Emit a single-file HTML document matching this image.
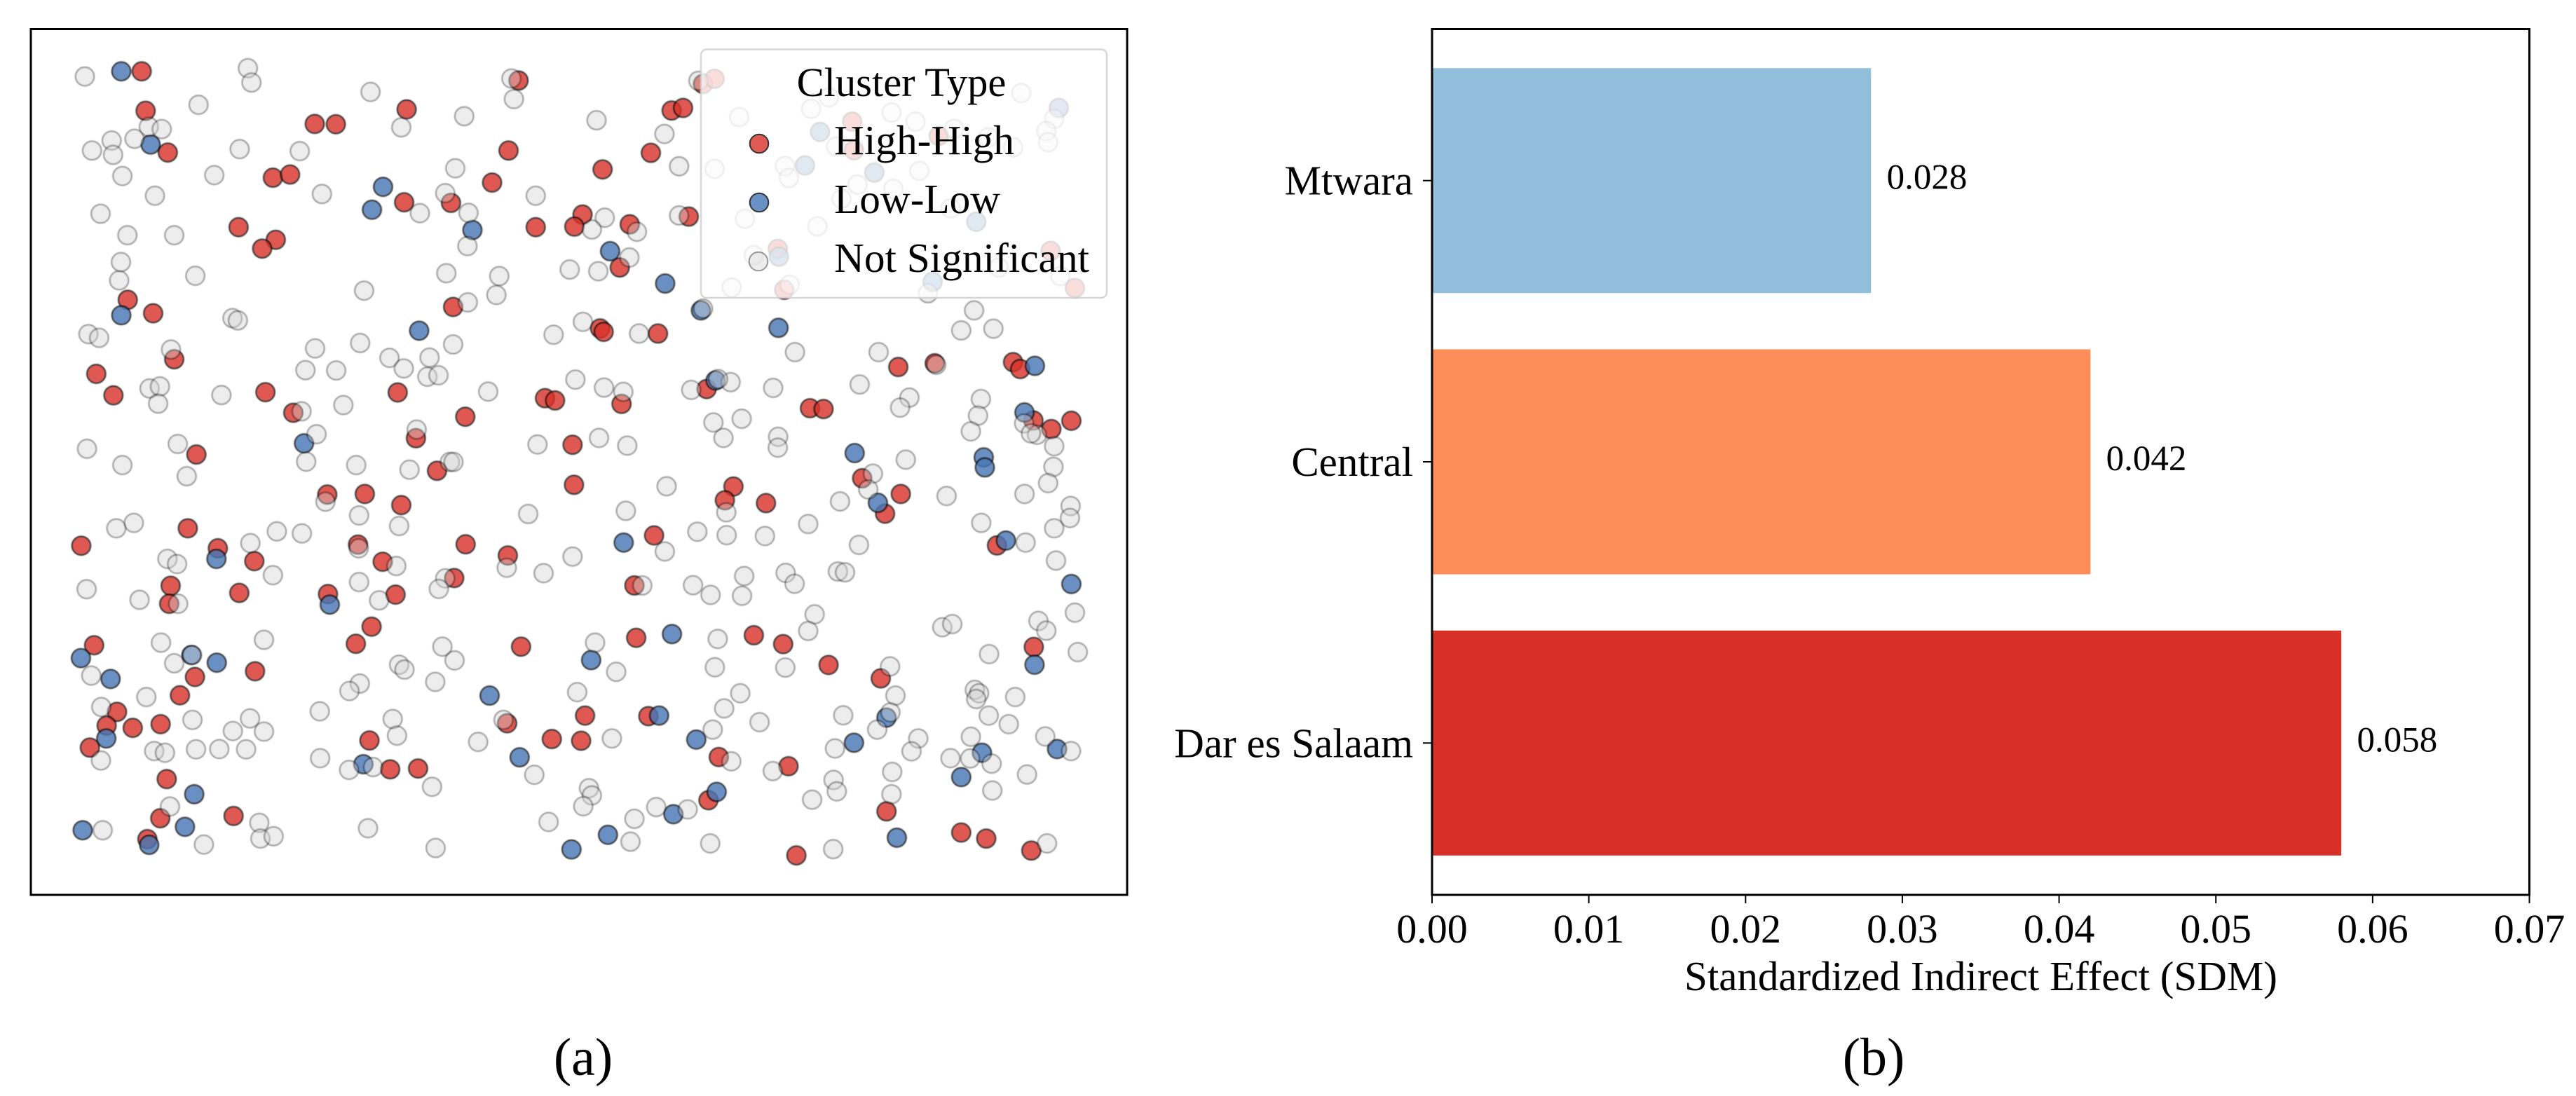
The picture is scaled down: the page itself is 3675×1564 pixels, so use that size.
<!DOCTYPE html>
<html lang="en">
<head>
<meta charset="utf-8">
<title>Cluster map and standardized indirect effects</title>
<style>
html,body{margin:0;padding:0;background:#fff;width:3675px;height:1564px;overflow:hidden}
svg{display:block}
text{font-family:"Liberation Serif",serif;fill:#000}
#scatter-points{filter:blur(0.8px)}
</style>
</head>
<body>
<svg id="fig" xmlns="http://www.w3.org/2000/svg" width="3675" height="1564" viewBox="0 0 3675 1564">
  <rect x="0" y="0" width="3675" height="1564" fill="#fff"/>
  <g id="scatter-points"></g>
  <rect x="44" y="41.5" width="1564" height="1235.5" fill="none" stroke="#000" stroke-width="3"/>
  <g>
    <rect x="1000" y="70.5" width="579" height="354.5" rx="8" ry="8" fill="#fff" fill-opacity="0.8" stroke="#ccc" stroke-opacity="0.8" stroke-width="2.5"/>
    <text x="1286" y="137" font-size="58.5" text-anchor="middle">Cluster Type</text>
    <circle cx="1083" cy="205" r="13.3" fill="#d73027" stroke="#000" stroke-width="2" opacity="0.8"/>
    <text x="1190" y="220" font-size="59.3">High-High</text>
    <circle cx="1083" cy="289" r="13.3" fill="#4575b4" stroke="#000" stroke-width="2" opacity="0.8"/>
    <text x="1190" y="304" font-size="59.3">Low-Low</text>
    <circle cx="1082" cy="373" r="13.3" fill="#d3d3d3" stroke="#000" stroke-width="2" opacity="0.4"/>
    <text x="1190" y="388" font-size="59.3">Not Significant</text>
  </g>
  <g id="bar-panel"></g>
  <rect x="2043" y="41.5" width="1565.5" height="1235.5" fill="none" stroke="#000" stroke-width="3"/>
  <text x="2826" y="1413" font-size="59" text-anchor="middle">Standardized Indirect Effect (SDM)</text>
  <text x="832" y="1534" font-size="76" text-anchor="middle">(a)</text>
  <text x="2673" y="1534" font-size="76" text-anchor="middle">(b)</text>
</svg>
<script>
// Panel (a): spatial cluster locations (arbitrary map units)
const mapEastDomain = [0, 3066];
const mapNorthDomain = [0, 3029];

const highHighEast = [310,1364,321,1051,794,853,383,1336,677,725,1290,1044,1175,581,1412,685,647,271,342,1181,401,183,231,656,1026,1438,1466,734,1215,1077,
1792,1824,1734,1599,1543,1520,1675,1840,1647,1592,1602,1754,2426,2528,2747,2767,1890,2179,2217,2804,2854,2910,1652,1515,1880,1912,2297,2302,2539,2089,2852,2107,2920,
463,1136,829,934,1036,439,141,523,625,915,1216,984,1334,1184,391,387,583,831,1020,953,909,177,1371,459,627,417,241,212,285,363,1332,165,947,1457,1005,1083,380,362,567,326,
1519,1965,1941,2056,2325,2433,2389,2702,1743,1688,1693,2022,2104,2231,2377,2805,1550,1727,1539,1924,2119,1895,2393,2602,2672,2798,2141];
const highHighNorth = [2880,2848,2742,2747,2696,2695,2596,2603,2508,2519,2491,2422,2420,2335,2335,2291,2260,2081,2034,2056,1873,1822,1747,1758,1757,1737,1729,1686,1672,1597,
2743,2752,2595,2537,2379,2337,2345,2372,2194,1981,1969,1963,1846,1859,1863,1839,1769,1702,1699,1659,1629,1658,1717,1574,2836,2854,2704,2604,2654,2259,2252,2116,2122,
1540,1483,1400,1402,1363,1282,1221,1212,1167,1225,1226,1165,1187,1108,1081,1018,1056,1052,1050,938,878,873,868,762,782,698,640,592,584,597,600,515,540,545,439,442,405,268,276,195,
1434,1428,1380,1370,1457,1402,1333,1222,1257,1082,899,908,877,804,757,867,627,625,539,482,450,331,292,218,197,155,138];

const lowLowEast = [253,335,985,954,1235,253,1086,764,
1620,1774,1874,2091,1915,2808,2779,2207,2165,2359,2875,2644,2092,2522,
519,836,140,449,520,223,1283,211,930,1367,457,145,431,331,
2304,2665,2668,2369,2727,1658,2910,1793,1567,2807,1757,2393,1861,2302,2660,2870,2602,1918,1797,1614,2422,1512];
const lowLowNorth = [2880,2624,2476,2396,2325,2027,1973,1579,
2251,2138,2044,1983,1799,1850,1687,2668,2551,2526,2752,2354,2232,2144,
1175,1015,828,839,812,755,697,547,457,481,352,226,238,175,
1545,1530,1495,1371,1239,1232,1087,912,821,805,627,620,543,532,497,510,412,360,282,210,200,159];

const notSignificantEast = [151,607,617,469,950,1344,1351,1212,1036,330,366,226,290,171,230,584,752,256,513,1187,347,814,1159,1412,195,1088,1224,270,401,1221,252,460,1162,1310,247,932,1302,1222,564,579,161,191,1462,392,795,921,1181,1003,1115,1043,768,854,1109,1140,332,361,356,533,1279,757,874,799,1079,
1582,1772,1813,1605,1569,1695,1813,1507,1587,1674,1544,1701,1880,2137,2371,2638,2602,2692,1523,1603,1657,1847,1957,1922,2076,2318,2457,2431,2657,2649,2629,2778,2814,2797,2862,1909,1988,1589,1937,2090,1668,2089,2532,
1867,1981,2182,2232,2407,2474,2770,2862,2840,2845,2252,2747,2677,2582,1912,2109,2120,2485,2312,2412,2267,2572,1997,2200,2022,2707,2879,1960,2122,2509,
256,770,436,910,1059,1172,1182,157,411,1417,824,918,1030,1391,239,288,688,758,614,382,409,917,1022,677,1331,1434,1159,1141,918,156,304,974,412,364,652,1151,1185,401,451,1030,1045,169,920,891,1131,323,197,808,1012,1024,452,613,565,652,1322,345,375,462,527,602,1251,196,809,890,957,1122,1408,389,639,201,943,642,679,484,1132,1448,
2447,2860,2355,2845,1778,2342,2779,2561,2263,1664,1945,2908,2906,2174,2658,1864,1946,2053,2862,2782,1773,2316,1515,2867,1852,1710,1995,2111,2136,1901,1989,2257,2277,2192,2174,2549,2577,2818,2840,2920,1578,1921,2680,2928,1913,2110,1637,2403,1528,1984,2418,2640,2652,2644,2753,1939,2272,2404,2679,2735,1907,2038,2367,2482,1625,2629,2837,2249,2463,2572,2627,2687,2909,1959,2075,2409,2786,2245,1561,1569,2254,1545,2407,2689,2185,1749,1837,1688,1677,1900,2244,2842];
const notSignificantNorth = [2862,2891,2841,2763,2808,2855,2783,2723,2684,2686,2678,2638,2644,2603,2588,2608,2601,2514,2517,2541,2445,2451,2454,2445,2382,2384,2385,2307,2307,2269,2213,2165,2174,2164,2149,2113,2098,2072,2017,2009,1961,1948,1959,1907,1911,1930,1925,1878,1879,1841,1835,1834,1812,1817,1771,1778,1718,1748,1760,1691,1713,1611,1627,
2709,2661,2548,2368,2327,2319,2376,2187,2181,2229,2004,1963,2050,1898,1898,2044,1974,1980,1802,1774,1759,1766,1793,1804,1773,1785,1739,1704,1734,1676,1621,1649,1609,1614,1569,1652,1665,1598,1598,1602,1571,1564,1854,
2847,2720,2749,2789,2736,2704,2804,2714,2671,2632,2617,2614,2649,2679,2539,2549,2507,2532,2484,2469,2434,2401,2364,2338,2237,2194,2164,2124,2134,2104,
1503,1515,1464,1503,1487,1514,1514,1560,1577,1575,1375,1327,1290,1332,1282,1301,1271,1264,1230,1175,1157,1212,1150,1118,1144,1125,1107,1070,1094,1069,1032,1030,1018,882,892,868,820,810,839,805,788,767,739,713,745,692,657,642,615,557,612,617,573,571,612,503,497,509,510,509,535,470,478,437,447,378,420,309,252,226,233,197,205,176,164,255,
1522,1497,1473,1440,1429,1418,1402,1395,1376,1343,1338,1360,1318,1297,1301,1270,1258,1255,1282,1232,1201,1224,1183,1169,1083,1082,1115,1126,1088,1049,1046,1131,1128,981,923,936,947,958,924,987,882,895,842,849,796,795,780,799,709,705,697,717,705,685,692,652,628,638,627,597,578,604,578,547,547,553,554,512,502,478,477,459,503,467,433,430,421,402,373,348,362,310,352,365,333,307,299,266,186,180,160,180];

// Panel (b): standardized indirect effect by region
const regionNames = ["Dar es Salaam", "Central", "Mtwara"];
const effectValues = [0.058, 0.042, 0.028];
const effectLabels = ["0.058", "0.042", "0.028"];
const xTickValues = [0, 0.01, 0.02, 0.03, 0.04, 0.05, 0.06, 0.07];
const xTickLabels = ["0.00", "0.01", "0.02", "0.03", "0.04", "0.05", "0.06", "0.07"];
const barColors = ["#d73027", "#fc8d59", "#91bfdb"];

const SVG_NS = "http://www.w3.org/2000/svg";
function make(tag, attrs, parent) {
  const node = document.createElementNS(SVG_NS, tag);
  for (const key in attrs) node.setAttribute(key, attrs[key]);
  parent.appendChild(node);
  return node;
}

// Axis functions
function mapX(v) { return 44 + (v - mapEastDomain[0]) / (mapEastDomain[1] - mapEastDomain[0]) * 1564; }
function mapY(v) { return 1277 - (v - mapNorthDomain[0]) / (mapNorthDomain[1] - mapNorthDomain[0]) * 1236; }
function effectX(v) { return 2043 + v / 0.07 * 1565.5; }
function regionY(v) { return 1277 - (v + 0.54) / 3.08 * 1236; }

const pointLayer = document.getElementById("scatter-points");
const barLayer = document.getElementById("bar-panel");

highHighEast.forEach(function (east, i) {
  const el = make("circle", { cx: mapX(east), cy: mapY(highHighNorth[i]), r: 13.3, fill: "#d73027", stroke: "#000", "stroke-width": 2, opacity: 0.8 }, pointLayer);
  
  
});
lowLowEast.forEach(function (east, i) {
  const el = make("circle", { cx: mapX(east), cy: mapY(lowLowNorth[i]), r: 13.3, fill: "#4575b4", stroke: "#000", "stroke-width": 2, opacity: 0.8 }, pointLayer);
  
  
});
notSignificantEast.forEach(function (east, i) {
  const el = make("circle", { cx: mapX(east), cy: mapY(notSignificantNorth[i]), r: 13.3, fill: "#d3d3d3", stroke: "#000", "stroke-width": 2, opacity: 0.4 }, pointLayer);
  
  
});

regionNames.forEach(function (name, i) {
  const center = regionY(i);
  const top = regionY(i + 0.4);
  const bottom = regionY(i - 0.4);

  const bar = make("rect", { x: effectX(0), y: top, width: effectX(effectValues[i]) - effectX(0), height: bottom - top, fill: barColors[i] }, barLayer);
  
  

  const tick = make("line", { x1: effectX(0) - 13, x2: effectX(0), y1: center, y2: center, stroke: "#000", "stroke-width": 2 }, barLayer);
  
  

  const label = make("text", { x: effectX(0) - 27, y: center + 20, "font-size": 59, "text-anchor": "end" }, barLayer);
  label.textContent = name;
  
  

  const value = make("text", { x: effectX(effectValues[i] + 0.001), y: center + 12, "font-size": 51 }, barLayer);
  value.textContent = effectLabels[i];
  
  
});

xTickValues.forEach(function (v, i) {
  const tick = make("line", { x1: effectX(v), x2: effectX(v), y1: 1277, y2: 1289, stroke: "#000", "stroke-width": 2 }, barLayer);
  
  

  const label = make("text", { x: effectX(v), y: 1345, "font-size": 58, "text-anchor": "middle" }, barLayer);
  label.textContent = xTickLabels[i];
  
  
});
</script>
</body>
</html>
